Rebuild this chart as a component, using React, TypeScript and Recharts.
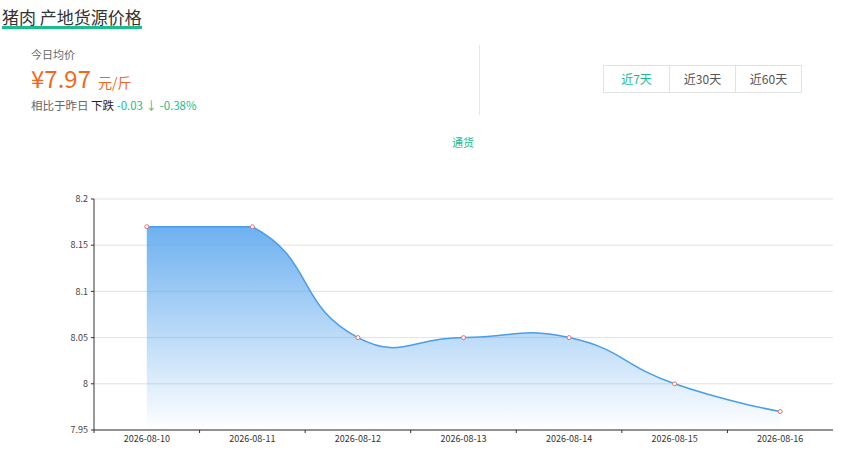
import React from 'react';
import {
  AreaChart,
  Area,
  XAxis,
  YAxis,
  CartesianGrid,
} from 'recharts';

const dates = [
  '2026-08-10',
  '2026-08-11',
  '2026-08-12',
  '2026-08-13',
  '2026-08-14',
  '2026-08-15',
  '2026-08-16',
];
const prices = [8.17, 8.17, 8.05, 8.05, 8.05, 8.0, 7.97];
const yTicks = [7.95, 8, 8.05, 8.1, 8.15, 8.2];
const ranges = ['近7天', '近30天', '近60天'];

const data = dates.map((date, i) => ({ date, price: prices[i] }));

const TEAL = '#1bbc8f';
const ORANGE = '#f2671d';
const FONT = '"Noto Sans CJK SC", "Noto Sans", sans-serif';

// smooth curve like echarts (smooth: 0.5, control points kept in the bounding box)
const smoothCurve = (context: any) => {
  let pts: number[][] = [];
  let line = NaN;
  return {
    areaStart() { line = 0; },
    areaEnd() { line = NaN; },
    lineStart() { pts = []; },
    point(x: number, y: number) { pts.push([+x, +y]); },
    lineEnd() {
      const n = pts.length;
      if (n) {
        if (line) context.lineTo(pts[0][0], pts[0][1]);
        else context.moveTo(pts[0][0], pts[0][1]);
        if (n > 1) {
          const xs = pts.map(p => p[0]);
          const ys = pts.map(p => p[1]);
          const minX = Math.min(...xs), maxX = Math.max(...xs);
          const minY = Math.min(...ys), maxY = Math.max(...ys);
          const clamp = (c: number[]) => [
            Math.min(Math.max(c[0], minX), maxX),
            Math.min(Math.max(c[1], minY), maxY),
          ];
          const cps: number[][] = [];
          for (let i = 0; i < n; i++) {
            if (i === 0 || i === n - 1) { cps.push(pts[i]); continue; }
            const p = pts[i], prev = pts[i - 1], next = pts[i + 1];
            const vx = next[0] - prev[0], vy = next[1] - prev[1];
            let d0 = Math.hypot(p[0] - prev[0], p[1] - prev[1]);
            let d1 = Math.hypot(p[0] - next[0], p[1] - next[1]);
            const s = d0 + d1;
            if (s) { d0 /= s; d1 /= s; }
            cps.push(clamp([p[0] - vx * d0 * 0.5, p[1] - vy * d0 * 0.5]));
            cps.push(clamp([p[0] + vx * d1 * 0.5, p[1] + vy * d1 * 0.5]));
          }
          for (let i = 0; i < n - 1; i++) {
            context.bezierCurveTo(
              cps[2 * i][0], cps[2 * i][1],
              cps[2 * i + 1][0], cps[2 * i + 1][1],
              pts[i + 1][0], pts[i + 1][1]
            );
          }
        }
      }
      if (line || (line !== 0 && n === 1)) context.closePath();
      line = 1 - line;
    },
  };
};

const DateTick = (props: any) => {
  const { x, y, payload } = props;
  const off = payload.offset || 0;
  return (
    <g>
      <line x1={x - off} x2={x - off} y1={y - 3} y2={y} stroke="#333" />
      <text x={x} y={y + 9} textAnchor="middle" fontSize={9} fill="#333" fontFamily={FONT}>
        {payload.value}
      </text>
    </g>
  );
};

export default function App() {
  return (
    <div style={{ position: 'absolute', left: 0, top: 0, width: 847, height: 454, fontFamily: FONT, background: '#fff' }}>
      <AreaChart
        width={847}
        height={454}
        data={data}
        margin={{ top: 199, right: 14, left: 0, bottom: 0 }}
      >
        <defs>
          <linearGradient id="priceFill" x1="0" y1="0" x2="0" y2="1">
            <stop offset="0%" stopColor="#5aa6ee" stopOpacity={0.88} />
            <stop offset="100%" stopColor="#5aa6ee" stopOpacity={0.0} />
          </linearGradient>
        </defs>
        <CartesianGrid vertical={false} stroke="#e2e2e2" />
        <XAxis
          dataKey="date"
          scale="band"
          height={24}
          tickSize={3}
          tickMargin={0}
          tickLine={false}
          interval={0}
          axisLine={{ stroke: '#333' }}
          tick={<DateTick />}
        />
        <YAxis
          width={94}
          type="number"
          domain={[7.95, 8.2]}
          ticks={yTicks}
          interval={0}
          tickSize={3}
          tickMargin={3}
          axisLine={{ stroke: '#333' }}
          tickLine={{ stroke: '#333' }}
          tick={{ fontSize: 9, fill: '#444', fontFamily: FONT }}
          tickFormatter={(v: number) => String(v)}
        />
        <Area
          dataKey="price"
          type={smoothCurve as any}
          stroke="#4a9de8"
          strokeWidth={1.5}
          fill="url(#priceFill)"
          fillOpacity={1}
          dot={{ r: 2, stroke: '#e0706f', strokeWidth: 1, fill: '#fff', fillOpacity: 1 }}
          activeDot={false}
          isAnimationActive={false}
        />
      </AreaChart>

      {/* title */}
      <div style={{ position: 'absolute', left: 2, top: 6, fontSize: 17, lineHeight: '22px', color: '#333', whiteSpace: 'nowrap' }}>
        猪肉 产地货源价格
      </div>
      <div style={{ position: 'absolute', left: 2, top: 26, width: 140, height: 3, background: TEAL }} />

      {/* today price */}
      <div style={{ position: 'absolute', left: 31, top: 47, fontSize: 11, lineHeight: '14px', color: '#666' }}>今日均价</div>
      <div style={{ position: 'absolute', left: 31, top: 64, color: ORANGE, whiteSpace: 'nowrap', display: 'flex', alignItems: 'baseline', height: 28 }}>
        <span style={{ fontSize: 24, lineHeight: '28px' }}>¥7.97</span>
        <span style={{ fontSize: 14, lineHeight: '28px', marginLeft: 7 }}>元/斤</span>
      </div>
      <div style={{ position: 'absolute', left: 31, top: 97, fontSize: 11.5, lineHeight: '16px', color: '#666', whiteSpace: 'nowrap' }}>
        相比于昨日 <span style={{ color: '#222' }}>下跌</span>{' '}
        <span style={{ color: TEAL }}>-0.03 ↓ -0.38%</span>
      </div>

      <div style={{ position: 'absolute', left: 479, top: 45, width: 1, height: 70, background: '#e6e6e6' }} />

      {/* range buttons */}
      <div style={{ position: 'absolute', left: 603, top: 65, display: 'flex', border: '1px solid #e3e3e3', height: 26 }}>
        {ranges.map((r, i) => (
          <div
            key={r}
            style={{
              width: 65,
              textAlign: 'center',
              lineHeight: '26px',
              fontSize: 12,
              color: i === 0 ? TEAL : '#555',
              borderLeft: i === 0 ? 'none' : '1px solid #e3e3e3',
            }}
          >
            {r}
          </div>
        ))}
      </div>

      {/* legend */}
      <div style={{ position: 'absolute', left: 413, width: 100, top: 134, textAlign: 'center', fontSize: 11, lineHeight: '16px', color: TEAL }}>
        通货
      </div>
    </div>
  );
}
